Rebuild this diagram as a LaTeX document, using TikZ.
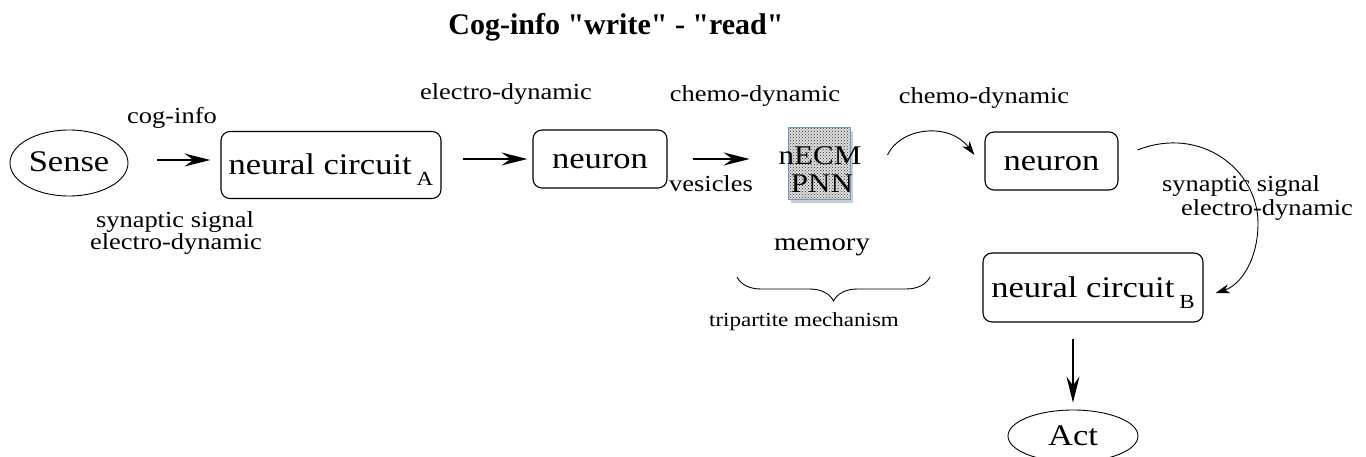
\documentclass[tikz,border=0pt]{standalone}
\usepackage{fontspec}
\setmainfont{Liberation Serif}[FakeStretch=1.15]
\newfontfamily\titlefont{Liberation Serif}
\usetikzlibrary{arrows.meta,decorations.pathreplacing,patterns,shapes.geometric,calc}
\definecolor{ecmblue}{HTML}{6F96C8}

\begin{document}
\begin{tikzpicture}[x=1pt,y=1pt,
  box/.style={draw, rounded corners=9pt, line width=1.1pt, inner sep=0pt,
    text height=24pt, text depth=4pt, font=\fontsize{30}{30}\selectfont},
  oval/.style={draw, ellipse, line width=0.9pt, inner sep=0pt,
    text height=24pt, text depth=6pt, font=\fontsize{30}{30}\selectfont},
  lbl/.style={inner sep=0pt, font=\fontsize{23}{23}\selectfont},
  arr/.style={line width=1.2pt, -{Stealth[length=26pt,width=13pt,inset=9pt]}},
  carr/.style={line width=0.9pt, -{Stealth[length=14pt,width=9pt,inset=4pt]}}
]
\path[use as bounding box] (0,0) rectangle (1366,-457);
\clip (0,0) rectangle (1366,-457);

% title
\node[inner sep=0pt, font=\titlefont\bfseries\fontsize{30}{30}\selectfont] (title) at (616,-27) {Cog-info "write" - "read"};

% main chain
\node[oval, minimum width=118pt, minimum height=66pt] (sense) at (69,-163) {Sense};
\node[box, minimum width=220pt, minimum height=67pt] (cA) at (331,-165)
  {neural circuit\,\raisebox{-11pt}{\fontsize{20}{20}\selectfont A}};
\node[box, minimum width=134pt, minimum height=58pt] (n1) at (600,-159) {neuron};

% extracellular matrix tile: dotted halftone with a soft shadow
\fill[black!20] (791,-131) rectangle (853,-203);
\node[draw=ecmblue, line width=1pt, minimum width=62pt, minimum height=72pt, inner sep=0pt,
  preaction={fill=black!12}, pattern=crosshatch dots, pattern color=black!85] (ecm) at (819,-164) {};
\node[inner sep=0pt, font=\fontsize{27}{27}\selectfont] (necm) at (820,-156) {nECM};
\node[inner sep=0pt, font=\fontsize{27}{27}\selectfont] (pnn) at (822,-184) {PNN};

\node[box, minimum width=133pt, minimum height=58pt] (n2) at (1051.5,-161) {neuron};
\node[box, minimum width=220pt, minimum height=69pt] (cB) at (1093,-287.5)
  {neural circuit\,\raisebox{-11pt}{\fontsize{20}{20}\selectfont B}};
\node[oval, minimum width=130pt, minimum height=52pt] (act) at (1073,-436) {Act};

% labels
\node[lbl] (coginfo) at (172,-118) {cog-info};
\node[lbl] (synL) at (175,-222) {synaptic signal};
\node[lbl] (elL) at (176,-244) {electro-dynamic};
\node[lbl] (elTop) at (506,-94) {electro-dynamic};
\node[lbl] (chem1) at (755,-96) {chemo-dynamic};
\node[lbl] (chem2) at (984,-98) {chemo-dynamic};
\node[lbl] (ves) at (711,-184) {vesicles};
\node[inner sep=0pt, font=\fontsize{25}{25}\selectfont] (mem) at (822,-247) {memory};
\node[inner sep=0pt, font=\fontsize{20}{20}\selectfont] (tri) at (804,-322) {tripartite mechanism};
\node[lbl] (synR) at (1241,-186) {synaptic signal};
\node[lbl] (elR) at (1267,-210) {electro-dynamic};

% straight connectors
\draw[arr] ($(sense.east)+(29,3)$) -- ($(sense.east -| cA.west)+(-10,3)$);
\draw[arr] ($(cA.east |- n1.west)+(21,0)$) -- ($(n1.west)+(-5,0)$);
\draw[arr] ($(n1.east)+(25,0)$) -- ($(ecm.west |- n1.east)+(-38,0)$);
\draw[arr] ($(act.north |- cB.south)+(0,-16)$) -- ($(act.north)+(0,7)$);

% curved connectors
\draw[carr] ($(ecm.east)+(37,9)$) .. controls +(13,28) and +(-25,33) .. ($(n2.west)+(-10,6)$);
\coordinate (bend) at (1258,-223);
\draw[carr] ($(n2.east)+(19,11)$) .. controls +(63,25) and +(0,53) .. (bend)
  .. controls +(0,-37) and +(25,8) .. ($(cB.east)+(12,-5.5)$);

% brace under the memory tile
\coordinate (bl) at (737,-277);
\coordinate (br) at (930,-277);
\draw[line width=0.9pt, decorate, decoration={brace, mirror, amplitude=24pt}] (bl) -- (br);
\end{tikzpicture}
\end{document}
